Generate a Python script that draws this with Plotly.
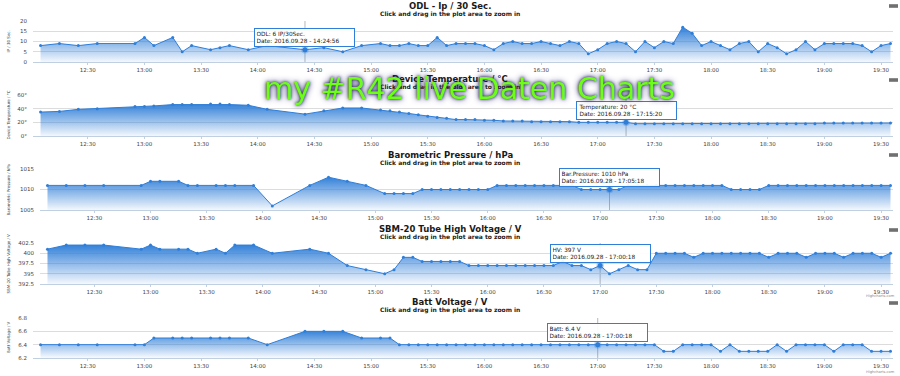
import plotly.graph_objects as go

W, H = 900, 376
DAY = "2016-09-28 "
FONT = "DejaVu Sans"
BLUE = "#2f7ed8"

# ---------------- data ----------------
times = ["12:05", "12:15", "12:25", "12:35", "12:55", "13:00", "13:05", "13:15", "13:20", "13:25",
         "13:35", "13:40", "13:45", "13:55", "14:05", "14:25", "14:35", "14:45", "14:55", "15:05",
         "15:10", "15:15", "15:20", "15:25", "15:30", "15:35", "15:40", "15:45", "15:50", "15:55",
         "16:00", "16:05", "16:10", "16:15", "16:20", "16:25", "16:30", "16:35", "16:40", "16:45",
         "16:50", "16:55", "17:00", "17:05", "17:10", "17:15", "17:20", "17:25", "17:30", "17:35",
         "17:40", "17:45", "17:50", "17:55", "18:00", "18:05", "18:10", "18:15", "18:20", "18:25",
         "18:30", "18:35", "18:40", "18:45", "18:50", "18:55", "19:00", "19:05", "19:10", "19:15",
         "19:20", "19:25", "19:30", "19:35"]

odl_ip = [8, 9, 8, 9, 9, 12, 8, 12, 5, 8, 6, 7, 8, 6, 8, 6, 7, 5, 8, 9, 8, 8, 9, 8, 8, 12, 8,
          9, 9, 9, 8, 6, 9, 10, 9, 9, 10, 9, 8, 10, 9, 4, 6, 9, 10, 9, 5, 10, 7, 10, 9, 17, 14,
          8, 10, 8, 6, 9, 10, 5, 9, 7, 4, 6, 10, 6, 9, 9, 9, 9, 8, 5, 8, 9]

temperature_c = [35, 36, 39, 40, 43, 43, 44, 46, 46, 46, 47, 47, 46, 45, 39, 32, 37, 41, 41, 38,
                 37, 35, 33, 31, 29, 27, 26,
                 24, 24, 24, 23, 23, 22, 22, 22, 21, 21, 21, 21, 21, 20, 20, 20, 20, 20, 20,
                 18, 18, 18, 18, 18, 18, 18, 18, 18, 18, 18, 18, 18, 18, 18, 18, 18, 18, 18, 18,
                 19, 19, 19, 19, 19, 19, 19, 19]

pressure_hpa = [1011, 1011, 1011, 1011, 1011, 1012, 1012, 1012, 1011, 1011, 1011, 1011, 1011, 1011,
                1006, 1011, 1013, 1012, 1011, 1009, 1009, 1009, 1009, 1010, 1010, 1010, 1010,
                1010, 1010, 1010, 1010,
                1011, 1011, 1011, 1011, 1011, 1011, 1011, 1011, 1011,
                1010, 1010, 1010, 1010, 1010,
                1011, 1011, 1011, 1011, 1011, 1011, 1011, 1011, 1011, 1011, 1011,
                1010, 1010, 1010, 1010,
                1011, 1011, 1011, 1011, 1011, 1011, 1011, 1011, 1011, 1011, 1011, 1011, 1011, 1011]

hv_volt = [401, 402, 402, 402, 401, 402, 401, 401, 401, 400, 401, 400, 402, 402, 400, 401, 400,
           397, 396, 395, 396, 399, 399, 398, 398, 398, 398,
           398, 397, 397, 397, 397, 397, 397, 397, 397, 397, 397, 398, 397, 397, 396, 397, 395,
           396, 397, 396, 396, 400, 400, 400, 400, 399, 400, 400, 400, 400, 400, 400, 400, 399,
           400, 400, 400, 399, 400, 400, 400, 399, 400, 400, 400, 399, 400]

batt_volt = [6.4, 6.4, 6.4, 6.4, 6.4, 6.4, 6.5, 6.5, 6.5, 6.5, 6.5, 6.5, 6.5, 6.5, 6.4, 6.6, 6.6,
             6.6, 6.5, 6.5, 6.5, 6.4, 6.4, 6.4, 6.4, 6.4, 6.4,
             6.4, 6.4, 6.4, 6.4, 6.4, 6.4, 6.4, 6.4, 6.4, 6.4, 6.4, 6.4, 6.4, 6.4, 6.4, 6.4, 6.4,
             6.4, 6.4, 6.4, 6.4, 6.4, 6.3, 6.3, 6.4, 6.4, 6.4, 6.4, 6.3, 6.4, 6.3, 6.3, 6.3, 6.3,
             6.4, 6.3, 6.4, 6.4, 6.4, 6.4, 6.3, 6.4, 6.4, 6.4, 6.3, 6.3, 6.3]

chart_titles = ["ODL - Ip / 30 Sec.", "Device Temperature / °C", "Barometric Pressure / hPa",
                "SBM-20 Tube High Voltage / V", "Batt Voltage / V"]
y_titles = ["IP / 30 Sec.", "Device Temperature / °C", "Barometric Pressure / hPa",
            "SBM-20 Tube High Voltage / V", "Batt Voltage / V"]
subtitle = "Click and drag in the plot area to zoom in"

y_tickvals = [[0, 5, 10, 15, 20], [0, 20, 40, 60], [1005, 1010, 1015],
              [392.5, 395, 397.5, 400, 402.5], [6.2, 6.4, 6.6, 6.8]]
y_ticktext = [["0", "5", "10", "15", "20"], ["0°", "20°", "40°", "60°"], ["1005", "1010", "1015"],
              ["392.5", "395", "397.5", "400", "402.5"], ["6.2", "6.4", "6.6", "6.8"]]
y_ranges = [[0, 20], [0, 60], [1005, 1015], [392.5, 402.5], [6.2, 6.8]]

tooltip_idx = [15, 45, 43, 42, 42]
tooltip_text = ["ODL: 6 IP/30Sec.<br>Date: 2016.09.28 - 14:24:56",
                "Temperature: 20 °C<br>Date: 2016.09.28 - 17:15:20",
                "Bar.Pressure: 1010 hPa<br>Date: 2016.09.28 - 17:05:18",
                "HV: 397 V<br>Date: 2016.09.28 - 17:00:18",
                "Batt: 6.4 V<br>Date: 2016.09.28 - 17:00:18"]

overlay_text = "my #R42 live Daten Charts"

# ---------------- layout geometry (pixels) ----------------
plot_x = [(33, 893), (33, 893), (40, 893), (40, 893), (33, 893)]
plot_y = [(21, 62), (95, 136), (169, 210), (243, 284), (318, 358)]
title_y = [5.5, 78.5, 155, 228.5, 302]
sub_y = [14, 86.5, 162.5, 236.5, 310]
menu_y = [6, 80, 155, 230, 303]
x_range = [DAY + "12:01:00", DAY + "19:36:20"]


def py(v):
    return 1 - v / H


x_all = [DAY + t for t in times]
series = [odl_ip, temperature_c, pressure_hpa, hv_volt, batt_volt]

fig = go.Figure()
annotations = []
shapes = []
layout = {}

for i, vals in enumerate(series):
    n = i + 1
    xa = "x" if n == 1 else f"x{n}"
    ya = "y" if n == 1 else f"y{n}"
    fig.add_trace(go.Scatter(
        x=x_all, y=vals, xaxis=xa, yaxis=ya, mode="lines+markers",
        line=dict(color=BLUE, width=1), marker=dict(size=3, color=BLUE),
        fill="tozeroy",
        fillgradient=dict(type="vertical",
                          colorscale=[[0, "rgba(47,126,216,0.03)"], [1, "rgba(47,126,216,0.95)"]],
                          start=y_ranges[i][0], stop=max(vals)),
        showlegend=False, hoverinfo="skip"))
    k = tooltip_idx[i]
    fig.add_trace(go.Scatter(
        x=[x_all[k]], y=[vals[k]], xaxis=xa, yaxis=ya, mode="markers",
        marker=dict(size=5, color=BLUE, line=dict(width=2.5, color="rgba(47,126,216,0.3)")),
        showlegend=False, hoverinfo="skip"))

    x0, x1 = plot_x[i]
    yt, yb = plot_y[i]
    xk = "xaxis" if n == 1 else f"xaxis{n}"
    yk = "yaxis" if n == 1 else f"yaxis{n}"
    layout[xk] = dict(domain=[x0 / W, x1 / W], anchor=ya, type="date", range=x_range,
                      tickformat="%H:%M", dtick=1800000, tick0=DAY + "12:00",
                      showgrid=False, zeroline=False, showline=True, linecolor="#C0D0E0",
                      linewidth=1, ticks="outside", ticklen=2, tickcolor="#C0D0E0",
                      automargin=False,
                      tickfont=dict(size=5.5, color="#444", family=FONT))
    layout[yk] = dict(domain=[py(yb), py(yt)], anchor=xa, range=y_ranges[i],
                      tickvals=y_tickvals[i], ticktext=y_ticktext[i],
                      showgrid=True, gridcolor="#DCDCDC", gridwidth=1, zeroline=False,
                      showline=False, ticks="", ticklabelstandoff=5, automargin=False,
                      tickfont=dict(size=5.5, color="#444", family=FONT))

    # titles
    annotations.append(dict(text=chart_titles[i], x=0.5, y=py(title_y[i]), xref="paper", yref="paper",
                            xanchor="center", yanchor="middle", showarrow=False,
                            font=dict(size=8.5, color="#1a1a1a", family=FONT, weight="bold")))
    annotations.append(dict(text=subtitle, x=0.5, y=py(sub_y[i]), xref="paper", yref="paper",
                            xanchor="center", yanchor="middle", showarrow=False,
                            font=dict(size=6, color="#222", family=FONT, weight="bold")))
    annotations.append(dict(text=y_titles[i], x=8 / W, y=py((yt + yb) / 2), xref="paper", yref="paper",
                            xanchor="center", yanchor="middle", showarrow=False, textangle=-90,
                            font=dict(size=4, color="#333", family=FONT)))
    # tooltip
    annotations.append(dict(text=tooltip_text[i], x=x_all[k], y=vals[k], xref=xa, yref=ya,
                            xanchor="center", yanchor="middle", yshift=12, showarrow=False,
                            align="left", width=96, bgcolor="rgba(255,255,255,0.92)",
                            bordercolor=BLUE, borderwidth=1, borderpad=1.5,
                            font=dict(size=5.8, color="#222", family=FONT)))
    # crosshair
    shapes.append(dict(type="line", xref=xa, yref=f"{ya} domain", x0=x_all[k], x1=x_all[k],
                       y0=0, y1=1, line=dict(color="#B8B8B8", width=1), layer="below"))
    # export menu icon
    my = menu_y[i]
    shapes.append(dict(type="rect", xref="paper", yref="paper", x0=889 / W, x1=898 / W,
                       y0=py(my + 1.8), y1=py(my - 1.8), fillcolor="#707070", line=dict(width=0)))

for cy in [295.5, 371.5]:
    annotations.append(dict(text="Highcharts.com", x=897 / W, y=py(cy), xref="paper", yref="paper",
                            xanchor="right", yanchor="middle", showarrow=False,
                            font=dict(size=3.6, color="#8a8a8a", family=FONT)))

annotations.append(dict(text=overlay_text, x=469 / W, y=py(88), xref="paper", yref="paper",
                        xanchor="center", yanchor="middle", showarrow=False,
                        font=dict(size=30, color="#6CFF14", family=FONT,
                                  shadow="0px 0px 3px #1c1650, 0px 0px 6px #2a2470")))

fig.update_layout(width=W, height=H, autosize=False, margin=dict(l=0, r=0, t=0, b=0, pad=0),
                  paper_bgcolor="white", plot_bgcolor="white", showlegend=False,
                  annotations=annotations, shapes=shapes, font=dict(family=FONT),
                  hovermode=False, **layout)

fig.write_html("out.html", config={"displayModeBar": False, "staticPlot": True},
               post_script="document.body.style.margin='0';document.body.style.overflow='hidden';")
